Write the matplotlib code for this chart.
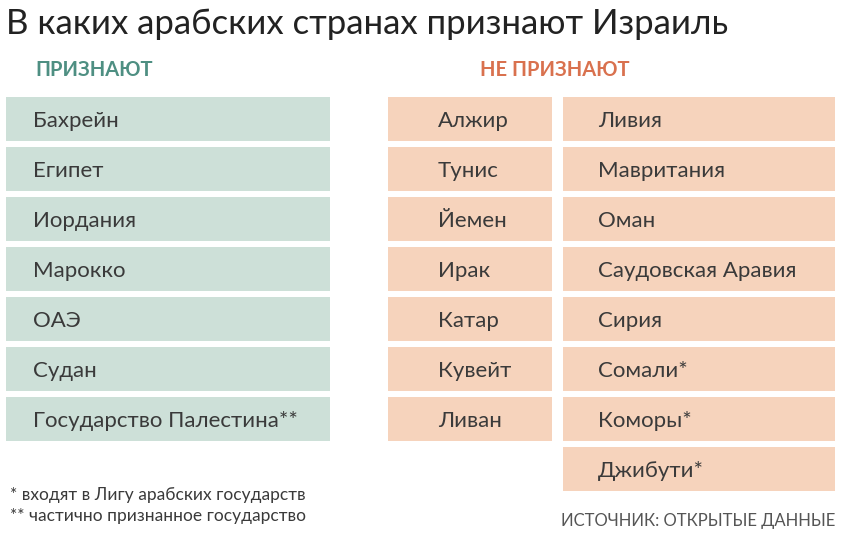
import matplotlib.pyplot as plt

title = 'В каких арабских странах признают Израиль'
head_yes = 'ПРИЗНАЮТ'
head_no = 'НЕ ПРИЗНАЮТ'
recognize = ['Бахрейн', 'Египет', 'Иордания', 'Марокко', 'ОАЭ', 'Судан',
             'Государство Палестина**']
not_recognize_1 = ['Алжир', 'Тунис', 'Йемен', 'Ирак', 'Катар', 'Кувейт', 'Ливан']
not_recognize_2 = ['Ливия', 'Мавритания', 'Оман', 'Саудовская Аравия', 'Сирия',
                   'Сомали*', 'Коморы*', 'Джибути*']
notes = ['* входят в Лигу арабских государств', '** частично признанное государство']
source = 'ИСТОЧНИК: ОТКРЫТЫЕ ДАННЫЕ'

GREEN = '#cde0d8'
PEACH = '#f6d3bc'
TXT = '#3a3a3a'
FONT = 'Lato'

fig = plt.figure(figsize=(8.45, 5.41), dpi=100)
ax = fig.add_axes([0, 0, 1, 1])
ax.set_xlim(0, 845)
ax.set_ylim(541, 0)
ax.axis('off')

y0, step, h = 119, 50, 44


def column(names, x0, width, color, tx):
    ys = [y0 + i * step for i in range(len(names))]
    ax.barh(ys, width, left=x0, height=h, color=color)
    for y, n in zip(ys, names):
        ax.text(tx, y + 2, n, fontsize=16, color=TXT, va='center', family=FONT)


column(recognize, 6, 324, GREEN, 33)
column(not_recognize_1, 388, 164, PEACH, 438)
column(not_recognize_2, 563, 272, PEACH, 598)

ax.text(6, 24, title, fontsize=25, color='#222222', va='center', family=FONT)
ax.text(35, 70, head_yes, fontsize=14.5, color='#4e8f82', va='center',
        family=FONT, fontweight='bold')
ax.text(480, 70, head_no, fontsize=14.5, color='#d9714e', va='center',
        family=FONT, fontweight='bold')
for i, n in enumerate(notes):
    ax.text(10, 495 + i * 21, n, fontsize=12.5, color=TXT, va='center',
            family=FONT)
ax.text(835, 521, source, fontsize=12, color='#555555', va='center', ha='right',
        family=FONT)

fig.savefig('out.png', dpi=100)
